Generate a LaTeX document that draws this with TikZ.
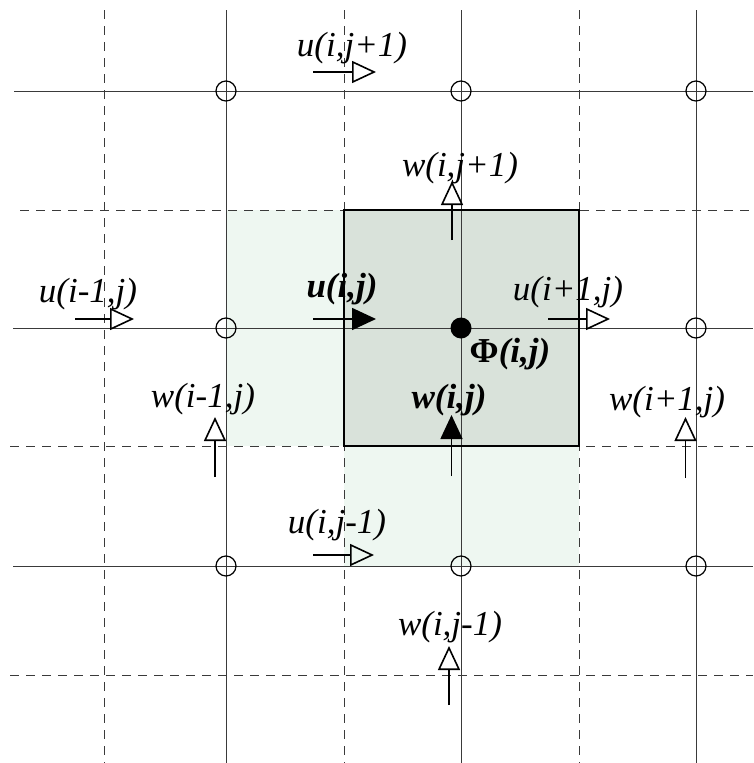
\documentclass[tikz,border=0pt]{standalone}
\usepackage{fontspec}
\setmainfont{Liberation Serif}
\usetikzlibrary{arrows.meta}
\definecolor{gridc}{HTML}{3A3A3A}
\definecolor{darkfill}{HTML}{D9E2DA}
\definecolor{lightfill}{HTML}{EEF7F1}
\tikzset{
  solidgrid/.style={gridc, line width=1pt},
  dashgrid/.style={gridc, line width=1pt, dash pattern=on 9pt off 7pt},
  openarrow/.style={black, line width=1.6pt, -{Triangle[open, length=24pt, width=22pt, line width=1.6pt]}},
  fillarrow/.style={black, line width=1.6pt, -{Triangle[length=24pt, width=22pt]}},
  lbl/.style={inner sep=0pt, font=\fontsize{35}{38}\selectfont\itshape},
  blbl/.style={inner sep=0pt, font=\fontsize{35}{38}\selectfont\bfseries\itshape},
  gridnode/.style={circle, draw=black, line width=1.2pt, minimum size=20pt, inner sep=0pt},
  dotnode/.style={circle, fill=black, minimum size=21pt, inner sep=0pt},
}
\begin{document}
\begin{tikzpicture}[x=1pt,y=-1pt]
\useasboundingbox (0,0) rectangle (753,763);
% shading
\fill[lightfill] (226,210) rectangle (344,446);
\fill[lightfill] (344,446) rectangle (579,566);
\fill[darkfill] (344,210) rectangle (579,446);
% grid lines
\foreach \x in {226,461,696} \draw[solidgrid] (\x,10) -- (\x,763);
\foreach \x in {104,344,579} \draw[dashgrid] (\x,10) -- (\x,763);
\draw[solidgrid] (14,91) -- (753,91);
\draw[solidgrid] (13,328) -- (753,328);
\draw[solidgrid] (13,566) -- (753,566);
\draw[dashgrid] (20,210) -- (753,210);
\draw[dashgrid] (10,446) -- (753,446);
\draw[dashgrid] (10,675) -- (753,675);
% central cell
\draw[black, line width=2pt] (344,210) rectangle (579,446);
% pressure points
\node[gridnode] (p11) at (226,91) {};
\node[gridnode] (p21) at (461,91) {};
\node[gridnode] (p31) at (696,91) {};
\node[gridnode] (p12) at (226,328) {};
\node[dotnode]  (p22) at (461,328) {};
\node[gridnode] (p32) at (696,328) {};
\node[gridnode] (p13) at (226,566) {};
\node[gridnode] (p23) at (461,566) {};
\node[gridnode] (p33) at (696,566) {};
% u arrows
\coordinate (ua0) at (313,72);  \coordinate (ua1) at (376,72);
\coordinate (ub0) at (75,319);  \coordinate (ub1) at (134,319);
\coordinate (uc0) at (313,319); \coordinate (uc1) at (376,319);
\coordinate (ud0) at (548,319); \coordinate (ud1) at (610,319);
\coordinate (ue0) at (313,555); \coordinate (ue1) at (374,555);
\draw[openarrow] (ua0) -- (ua1);
\draw[openarrow] (ub0) -- (ub1);
\draw[fillarrow] (uc0) -- (uc1);
\draw[openarrow] (ud0) -- (ud1);
\draw[openarrow] (ue0) -- (ue1);
% w arrows
\coordinate (wa0) at (452,240);   \coordinate (wa1) at (452,181);
\coordinate (wb0) at (215,477);   \coordinate (wb1) at (215,417);
\coordinate (wc0) at (451.5,476); \coordinate (wc1) at (451.5,415);
\coordinate (wd0) at (685.5,478); \coordinate (wd1) at (685.5,417);
\coordinate (we0) at (449,705);   \coordinate (we1) at (449,646);
\draw[openarrow] (wa0) -- (wa1);
\draw[openarrow] (wb0) -- (wb1);
\draw[fillarrow] (wc0) -- (wc1);
\draw[openarrow] (wd0) -- (wd1);
\draw[openarrow] (we0) -- (we1);
% labels
\node[lbl] (lua) at (352,48) {u(i,j+1)};
\node[lbl] (lwa) at (460,168) {w(i,j+1)};
\node[lbl] (lub) at (88,294) {u(i-1,j)};
\node[blbl] (luc) at (342,289) {u(i,j)};
\node[lbl] (lud) at (568,292) {u(i+1,j)};
\node[blbl] (lphi) at (510,354) {{\upshape Φ}(i,j)};
\node[blbl] (lwc) at (449,400) {w(i,j)};
\node[lbl] (lwb) at (203,399) {w(i-1,j)};
\node[lbl] (lwd) at (667,402) {w(i+1,j)};
\node[lbl] (lue) at (337,525) {u(i,j-1)};
\node[lbl] (lwe) at (450,627) {w(i,j-1)};
\end{tikzpicture}
\end{document}
